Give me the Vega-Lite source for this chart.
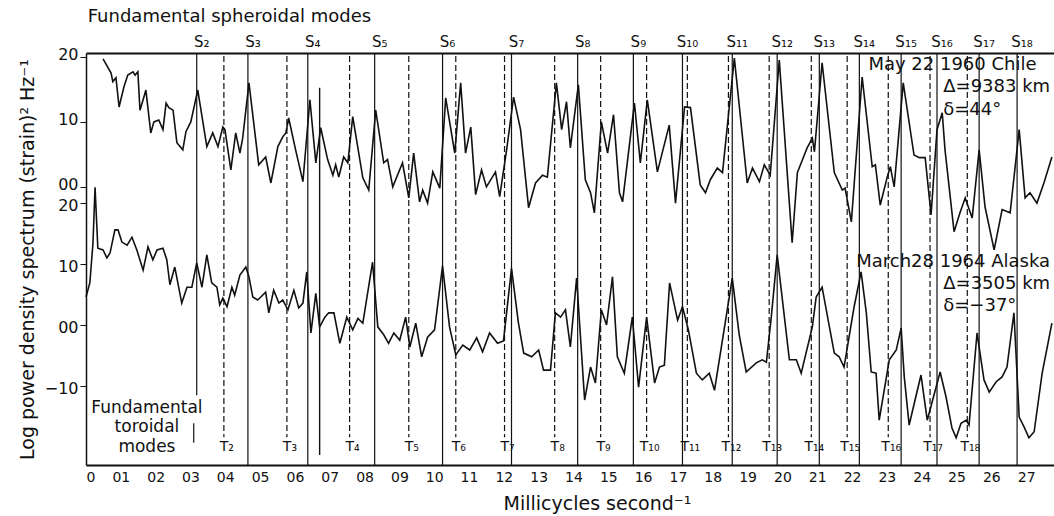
{
"$schema": "https://vega.github.io/schema/vega-lite/v6.json",
"width": 968, "height": 412,
"autosize": {"type": "none"},
"padding": {"left": 86, "top": 53, "right": 0, "bottom": 51},
"background": "white",
"config": {
  "view": {"stroke": null},
  "font": "DejaVu Sans",
  "axis": {"grid": false, "domainColor": "#111", "tickColor": "#111", "labelColor": "#111", "titleColor": "#111", "labelFont": "DejaVu Sans", "titleFont": "DejaVu Sans"},
  "text": {"color": "#111", "font": "DejaVu Sans"}
},
"datasets": {
  "chile": [
{"f":0.49,"p":19.7},{"f":0.72,"p":17.5},{"f":0.77,"p":16.2},{"f":0.86,"p":16.8},{"f":0.95,"p":12.3},{"f":1.09,"p":15.4},{"f":1.20,"p":17.2},{"f":1.35,"p":17.7},{"f":1.41,"p":17.2},{"f":1.49,"p":17.7},{"f":1.55,"p":11.8},{"f":1.64,"p":13.4},{"f":1.72,"p":14.9},{"f":1.86,"p":8.3},{"f":1.95,"p":10.0},{"f":2.09,"p":10.3},{"f":2.21,"p":8.8},{"f":2.30,"p":12.9},{"f":2.38,"p":12.2},{"f":2.50,"p":11.8},{"f":2.61,"p":6.8},{"f":2.78,"p":5.7},{"f":2.87,"p":8.5},{"f":3.01,"p":10.0},{"f":3.21,"p":14.9},{"f":3.47,"p":6.2},{"f":3.64,"p":8.3},{"f":3.79,"p":6.2},{"f":3.93,"p":9.2},{"f":3.99,"p":8.8},{"f":4.16,"p":2.6},{"f":4.30,"p":8.3},{"f":4.42,"p":5.2},{"f":4.50,"p":7.5},{"f":4.68,"p":16.0},{"f":4.96,"p":3.4},{"f":5.16,"p":4.6},{"f":5.31,"p":0.6},{"f":5.51,"p":6.2},{"f":5.65,"p":7.7},{"f":5.74,"p":8.3},{"f":5.82,"p":10.6},{"f":6.02,"p":5.7},{"f":6.23,"p":0.8},{"f":6.43,"p":13.4},{"f":6.60,"p":3.7},{"f":6.74,"p":9.1},{"f":6.94,"p":4.2},{"f":7.09,"p":1.8},{"f":7.17,"p":3.4},{"f":7.26,"p":1.5},{"f":7.40,"p":4.6},{"f":7.52,"p":3.7},{"f":7.66,"p":10.8},{"f":7.95,"p":1.4},{"f":8.12,"p":-0.5},{"f":8.32,"p":11.8},{"f":8.55,"p":3.7},{"f":8.66,"p":4.2},{"f":8.81,"p":0.0},{"f":9.09,"p":3.7},{"f":9.27,"p":-1.7},{"f":9.41,"p":5.2},{"f":9.58,"p":-2.3},{"f":9.67,"p":-0.5},{"f":9.81,"p":-2.5},{"f":9.96,"p":2.3},{"f":10.16,"p":-0.2},{"f":10.33,"p":13.7},{"f":10.59,"p":5.2},{"f":10.76,"p":16.0},{"f":10.90,"p":5.2},{"f":11.05,"p":9.2},{"f":11.19,"p":-1.2},{"f":11.36,"p":2.6},{"f":11.50,"p":0.0},{"f":11.76,"p":2.3},{"f":11.88,"p":-1.5},{"f":12.08,"p":5.7},{"f":12.28,"p":13.8},{"f":12.48,"p":8.8},{"f":12.71,"p":-3.2},{"f":12.91,"p":0.6},{"f":13.11,"p":1.8},{"f":13.25,"p":1.5},{"f":13.51,"p":16.0},{"f":13.66,"p":8.8},{"f":13.80,"p":13.1},{"f":13.91,"p":6.0},{"f":14.14,"p":15.7},{"f":14.34,"p":1.1},{"f":14.49,"p":-0.9},{"f":14.60,"p":-4.0},{"f":14.80,"p":10.0},{"f":14.98,"p":5.2},{"f":15.15,"p":11.1},{"f":15.32,"p":-0.9},{"f":15.41,"p":-2.3},{"f":15.75,"p":12.9},{"f":15.92,"p":3.7},{"f":16.12,"p":13.4},{"f":16.41,"p":2.3},{"f":16.75,"p":9.5},{"f":16.93,"p":-2.5},{"f":17.19,"p":12.3},{"f":17.36,"p":12.2},{"f":17.64,"p":0.3},{"f":17.79,"p":-0.9},{"f":17.93,"p":1.1},{"f":18.13,"p":2.9},{"f":18.28,"p":2.2},{"f":18.62,"p":19.8},{"f":18.99,"p":0.6},{"f":19.14,"p":2.9},{"f":19.34,"p":0.8},{"f":19.48,"p":3.4},{"f":19.65,"p":1.8},{"f":19.91,"p":19.5},{"f":20.28,"p":-8.6},{"f":20.43,"p":2.2},{"f":20.71,"p":6.0},{"f":20.86,"p":7.5},{"f":20.92,"p":5.4},{"f":21.14,"p":19.1},{"f":21.49,"p":2.2},{"f":21.72,"p":-0.5},{"f":21.80,"p":-0.2},{"f":21.98,"p":-5.4},{"f":22.29,"p":16.9},{"f":22.58,"p":3.1},{"f":22.67,"p":3.4},{"f":22.81,"p":-2.8},{"f":23.01,"p":1.5},{"f":23.10,"p":3.1},{"f":23.21,"p":0.0},{"f":23.47,"p":16.0},{"f":23.78,"p":4.9},{"f":23.93,"p":4.5},{"f":24.10,"p":4.5},{"f":24.27,"p":-4.3},{"f":24.44,"p":8.8},{"f":24.59,"p":11.4},{"f":24.67,"p":5.7},{"f":24.93,"p":-6.9},{"f":25.10,"p":-4.0},{"f":25.25,"p":-1.7},{"f":25.45,"p":-4.8},{"f":25.65,"p":5.7},{"f":25.82,"p":-3.1},{"f":26.08,"p":-9.7},{"f":26.31,"p":-3.5},{"f":26.54,"p":-4.0},{"f":26.80,"p":8.8},{"f":26.97,"p":-1.7},{"f":27.11,"p":-0.9},{"f":27.31,"p":-2.5},{"f":27.51,"p":0.6},{"f":27.74,"p":4.6}
  ],
  "alaska": [
{"f":0.00,"p":4.6},{"f":0.11,"p":6.9},{"f":0.20,"p":13.4},{"f":0.26,"p":22.6},{"f":0.34,"p":12.6},{"f":0.49,"p":12.3},{"f":0.60,"p":11.0},{"f":0.69,"p":11.8},{"f":0.83,"p":15.6},{"f":0.92,"p":15.6},{"f":1.03,"p":13.6},{"f":1.18,"p":13.1},{"f":1.32,"p":14.4},{"f":1.46,"p":12.3},{"f":1.64,"p":9.0},{"f":1.78,"p":12.8},{"f":1.92,"p":10.7},{"f":2.04,"p":12.3},{"f":2.21,"p":12.6},{"f":2.32,"p":10.7},{"f":2.41,"p":6.6},{"f":2.55,"p":9.5},{"f":2.75,"p":3.6},{"f":2.90,"p":6.2},{"f":3.04,"p":6.2},{"f":3.18,"p":10.2},{"f":3.33,"p":6.2},{"f":3.47,"p":11.5},{"f":3.61,"p":6.9},{"f":3.76,"p":6.2},{"f":3.84,"p":3.3},{"f":3.93,"p":4.4},{"f":4.05,"p":3.0},{"f":4.19,"p":6.2},{"f":4.27,"p":4.9},{"f":4.42,"p":8.2},{"f":4.59,"p":9.5},{"f":4.68,"p":7.9},{"f":4.79,"p":4.6},{"f":4.93,"p":4.1},{"f":5.02,"p":4.6},{"f":5.16,"p":5.4},{"f":5.25,"p":2.0},{"f":5.39,"p":5.7},{"f":5.54,"p":3.6},{"f":5.65,"p":4.1},{"f":5.80,"p":2.5},{"f":5.97,"p":5.7},{"f":6.11,"p":2.8},{"f":6.23,"p":3.6},{"f":6.34,"p":8.7},{"f":6.46,"p":-1.3},{"f":6.60,"p":5.2},{"f":6.71,"p":-0.3},{"f":6.86,"p":1.3},{"f":6.97,"p":2.0},{"f":7.12,"p":2.0},{"f":7.29,"p":-3.0},{"f":7.49,"p":1.3},{"f":7.66,"p":-0.8},{"f":7.81,"p":1.1},{"f":7.95,"p":0.3},{"f":8.23,"p":10.3},{"f":8.38,"p":-0.3},{"f":8.55,"p":-1.6},{"f":8.69,"p":-3.0},{"f":8.84,"p":-1.3},{"f":9.01,"p":-2.5},{"f":9.18,"p":1.3},{"f":9.30,"p":-3.6},{"f":9.47,"p":0.3},{"f":9.64,"p":-5.2},{"f":9.81,"p":-2.0},{"f":10.01,"p":-0.8},{"f":10.24,"p":9.7},{"f":10.44,"p":-0.3},{"f":10.62,"p":-4.9},{"f":10.82,"p":-3.3},{"f":11.02,"p":-4.1},{"f":11.22,"p":-2.1},{"f":11.39,"p":-4.4},{"f":11.59,"p":-1.3},{"f":11.82,"p":-3.0},{"f":11.99,"p":-2.6},{"f":12.22,"p":9.3},{"f":12.42,"p":0.3},{"f":12.57,"p":-4.6},{"f":12.80,"p":-5.2},{"f":13.00,"p":-4.1},{"f":13.14,"p":-7.4},{"f":13.34,"p":-7.4},{"f":13.48,"p":2.0},{"f":13.63,"p":1.3},{"f":13.77,"p":2.5},{"f":13.91,"p":-3.6},{"f":14.09,"p":7.7},{"f":14.32,"p":-12.3},{"f":14.49,"p":-6.9},{"f":14.63,"p":-9.5},{"f":14.80,"p":2.5},{"f":14.95,"p":0.0},{"f":15.12,"p":7.9},{"f":15.26,"p":-5.2},{"f":15.46,"p":-7.9},{"f":15.69,"p":1.3},{"f":15.87,"p":-10.2},{"f":16.10,"p":1.3},{"f":16.33,"p":-9.5},{"f":16.47,"p":-6.9},{"f":16.61,"p":-6.6},{"f":16.76,"p":6.9},{"f":16.99,"p":0.8},{"f":17.13,"p":3.0},{"f":17.30,"p":-0.8},{"f":17.53,"p":-7.9},{"f":17.70,"p":-9.0},{"f":17.90,"p":-7.9},{"f":18.05,"p":-10.7},{"f":18.56,"p":7.7},{"f":18.76,"p":-1.6},{"f":18.96,"p":-7.7},{"f":19.25,"p":-6.2},{"f":19.42,"p":-5.7},{"f":19.54,"p":-6.1},{"f":19.68,"p":1.3},{"f":19.85,"p":11.5},{"f":20.20,"p":-5.7},{"f":20.40,"p":-5.7},{"f":20.54,"p":-7.9},{"f":20.86,"p":-0.3},{"f":20.97,"p":4.6},{"f":21.14,"p":6.2},{"f":21.35,"p":-0.3},{"f":21.49,"p":-4.6},{"f":21.63,"p":-5.2},{"f":21.77,"p":-6.9},{"f":22.06,"p":3.0},{"f":22.26,"p":8.7},{"f":22.41,"p":2.0},{"f":22.55,"p":-7.7},{"f":22.69,"p":-7.9},{"f":22.78,"p":-15.6},{"f":23.07,"p":-5.7},{"f":23.27,"p":-4.1},{"f":23.41,"p":-0.5},{"f":23.50,"p":-8.5},{"f":23.64,"p":-16.4},{"f":23.98,"p":-8.2},{"f":24.16,"p":-15.6},{"f":24.53,"p":-7.7},{"f":24.70,"p":-11.8},{"f":24.87,"p":-16.9},{"f":24.99,"p":-18.5},{"f":25.13,"p":-16.1},{"f":25.28,"p":-15.6},{"f":25.36,"p":-16.4},{"f":25.59,"p":-1.3},{"f":25.79,"p":-9.0},{"f":25.94,"p":-11.0},{"f":26.14,"p":-9.3},{"f":26.31,"p":-8.5},{"f":26.45,"p":-6.9},{"f":26.65,"p":2.0},{"f":26.80,"p":-15.1},{"f":26.94,"p":-16.7},{"f":27.08,"p":-18.5},{"f":27.23,"p":-17.5},{"f":27.46,"p":-7.9},{"f":27.74,"p":0.3}
  ],
  "smodes": [
{"mode":"S₂","f":3.18},{"mode":"S₃","f":4.65},{"mode":"S₄","f":6.37},{"mode":"S₅","f":8.29},{"mode":"S₆","f":10.24},{"mode":"S₇","f":12.22},{"mode":"S₈","f":14.12},{"mode":"S₉","f":15.72},{"mode":"S₁₀","f":17.13},{"mode":"S₁₁","f":18.56},{"mode":"S₁₂","f":19.85},{"mode":"S₁₃","f":21.06},{"mode":"S₁₄","f":22.21},{"mode":"S₁₅","f":23.41},{"mode":"S₁₆","f":24.44},{"mode":"S₁₇","f":25.65},{"mode":"S₁₈","f":26.74}
  ],
  "tmodes": [
{"mode":"T₂","f":3.96},{"mode":"T₃","f":5.77},{"mode":"T₄","f":7.57},{"mode":"T₅","f":9.27},{"mode":"T₆","f":10.62},{"mode":"T₇","f":12.02},{"mode":"T₈","f":13.46},{"mode":"T₉","f":14.78},{"mode":"T₁₀","f":16.10},{"mode":"T₁₁","f":17.27},{"mode":"T₁₂","f":18.45},{"mode":"T₁₃","f":19.62},{"mode":"T₁₄","f":20.83},{"mode":"T₁₅","f":21.86},{"mode":"T₁₆","f":23.04},{"mode":"T₁₇","f":24.24},{"mode":"T₁₈","f":25.31}
  ],
  "extra": [{"f":6.71}],
  "one": [{}]
},
"layer": [
  {"data": {"name": "chile"}, "mark": {"type": "line", "color": "#111", "strokeWidth": 1.6},
   "encoding": {
     "x": {"field": "f", "type": "quantitative", "scale": {"domain": [0, 27.8], "nice": false, "zero": false},
           "axis": {"orient": "top", "labels": false, "ticks": false, "title": null, "domainWidth": 2}},
     "y": {"field": "p", "type": "quantitative", "scale": {"domain": [-42.8, 20.6], "nice": false, "zero": false},
           "axis": {"orient": "left", "values": [0, 10, 20], "labelExpr": "datum.value == 0 ? '00' : datum.label", "title": null, "labelFontSize": 16, "labelOffset": -2, "tickSize": 6, "labelPadding": 2, "domain": false}}
   }},
  {"data": {"name": "smodes"}, "mark": {"type": "text", "fontSize": 15, "dx": 5},
   "encoding": {"x": {"field": "f", "type": "quantitative", "axis": null}, "y": {"datum": 22.3, "scale": {"domain": [-42.8, 20.6], "nice": false, "zero": false}, "axis": null}, "text": {"field": "mode"}}},
  {"data": {"name": "one"}, "mark": {"type": "text", "fontSize": 18, "align": "left"},
   "encoding": {"x": {"datum": 0.05, "axis": null}, "y": {"datum": 26.2, "scale": {"domain": [-42.8, 20.6], "nice": false, "zero": false}, "axis": null}, "text": {"value": "Fundamental spheroidal modes"}}},
  {"data": {"name": "one"}, "mark": {"type": "text", "fontSize": 18, "align": "left"},
   "encoding": {"x": {"datum": 22.47, "axis": null}, "y": {"datum": 18.8, "scale": {"domain": [-42.8, 20.6], "nice": false, "zero": false}, "axis": null}, "text": {"value": "May 22 1960 Chile"}}},
  {"data": {"name": "one"}, "mark": {"type": "text", "fontSize": 18, "align": "left"},
   "encoding": {"x": {"datum": 24.62, "axis": null}, "y": {"datum": 15.4, "scale": {"domain": [-42.8, 20.6], "nice": false, "zero": false}, "axis": null}, "text": {"value": "Δ=9383 km"}}},
  {"data": {"name": "one"}, "mark": {"type": "text", "fontSize": 18, "align": "left"},
   "encoding": {"x": {"datum": 24.62, "axis": null}, "y": {"datum": 11.8, "scale": {"domain": [-42.8, 20.6], "nice": false, "zero": false}, "axis": null}, "text": {"value": "δ=44°"}}},
  {"data": {"name": "smodes"}, "transform": [{"filter": "datum.f > 3.5"}], "mark": {"type": "rule", "color": "#111", "strokeWidth": 1.2},
   "encoding": {"x": {"field": "f", "type": "quantitative", "axis": null}}},
  {"data": {"name": "smodes"}, "transform": [{"filter": "datum.f < 3.5"}], "mark": {"type": "rule", "color": "#111", "strokeWidth": 1.2},
   "encoding": {"x": {"field": "f", "type": "quantitative", "axis": null}, "y": {"datum": 44.6, "scale": {"domain": [-22.95, 44.6], "nice": false, "zero": false}, "axis": null}, "y2": {"datum": -11.5}}},
  {"data": {"name": "smodes"}, "transform": [{"filter": "datum.f < 3.5"}], "mark": {"type": "rule", "color": "#111", "strokeWidth": 1.2, "xOffset": -3},
   "encoding": {"x": {"field": "f", "type": "quantitative", "axis": null}, "y": {"datum": -16.1, "scale": {"domain": [-22.95, 44.6], "nice": false, "zero": false}, "axis": null}, "y2": {"datum": -19.3}}},
  {"data": {"name": "extra"}, "mark": {"type": "rule", "color": "#111", "strokeWidth": 1.4},
   "encoding": {"x": {"field": "f", "type": "quantitative", "axis": null}, "y": {"datum": 38.9, "scale": {"domain": [-22.95, 44.6], "nice": false, "zero": false}, "axis": null}, "y2": {"datum": -21.3}}},
  {"data": {"name": "tmodes"}, "mark": {"type": "rule", "color": "#111", "strokeWidth": 1.2, "strokeDash": [6, 3]},
   "encoding": {"x": {"field": "f", "type": "quantitative", "axis": null}, "y": {"datum": 44.1, "scale": {"domain": [-22.95, 44.6], "nice": false, "zero": false}, "axis": null}, "y2": {"datum": -18.4}}},
  {"data": {"name": "tmodes"}, "mark": {"type": "text", "fontSize": 14, "dx": 3},
   "encoding": {"x": {"field": "f", "type": "quantitative", "axis": null}, "y": {"datum": -20.0, "scale": {"domain": [-22.95, 44.6], "nice": false, "zero": false}, "axis": null}, "text": {"field": "mode"}}},
  {"data": {"name": "alaska"}, "mark": {"type": "line", "color": "#111", "strokeWidth": 1.6},
   "encoding": {
     "x": {"field": "f", "type": "quantitative", "scale": {"domain": [0, 27.8], "nice": false, "zero": false},
           "axis": {"orient": "bottom", "values": [0,1,2,3,4,5,6,7,8,9,10,11,12,13,14,15,16,17,18,19,20,21,22,23,24,25,26,27],
                    "labelExpr": "datum.value == 0 ? '0' : (datum.value < 10 ? '0' + datum.label : datum.label)",
                    "labelFontSize": 14, "ticks": false, "labelPadding": 5, "domainWidth": 2,
                    "title": "Millicycles  second⁻¹", "titleFontSize": 19, "titleFontWeight": "normal", "titleX": 511, "titleY": 29, "titleBaseline": "top"}},
     "y": {"field": "p", "type": "quantitative", "scale": {"domain": [-22.95, 44.6], "nice": false, "zero": false},
           "axis": {"orient": "left", "values": [-10, 0, 10, 20], "labelExpr": "datum.value == 0 ? '00' : (datum.value < 0 ? '−10' : datum.label)",
                    "title": "Log power density spectrum (strain)² Hz⁻¹", "titleFontSize": 19, "titleFontWeight": "normal", "titleX": -49,
                    "labelFontSize": 16, "labelOffset": 2, "tickSize": 6, "labelPadding": 2, "domainWidth": 1.5}}
   }},
  {"data": {"name": "one"}, "mark": {"type": "text", "fontSize": 18, "align": "left"},
   "encoding": {"x": {"datum": 22.12, "axis": null}, "y": {"datum": 10.3, "scale": {"domain": [-22.95, 44.6], "nice": false, "zero": false}, "axis": null}, "text": {"value": "March28 1964 Alaska"}}},
  {"data": {"name": "one"}, "mark": {"type": "text", "fontSize": 18, "align": "left"},
   "encoding": {"x": {"datum": 24.62, "axis": null}, "y": {"datum": 6.7, "scale": {"domain": [-22.95, 44.6], "nice": false, "zero": false}, "axis": null}, "text": {"value": "Δ=3505 km"}}},
  {"data": {"name": "one"}, "mark": {"type": "text", "fontSize": 18, "align": "left"},
   "encoding": {"x": {"datum": 24.62, "axis": null}, "y": {"datum": 3.1, "scale": {"domain": [-22.95, 44.6], "nice": false, "zero": false}, "axis": null}, "text": {"value": "δ=−37°"}}},
  {"data": {"name": "one"}, "mark": {"type": "text", "fontSize": 17, "align": "center", "lineBreak": "\n", "lineHeight": 19.5, "baseline": "middle"},
   "encoding": {"x": {"datum": 1.75, "axis": null}, "y": {"datum": -13.6, "scale": {"domain": [-22.95, 44.6], "nice": false, "zero": false}, "axis": null}, "text": {"value": "Fundamental\ntoroidal\nmodes"}}}
],
"resolve": {"scale": {"y": "independent"}, "axis": {"x": "independent", "y": "independent"}}
}
